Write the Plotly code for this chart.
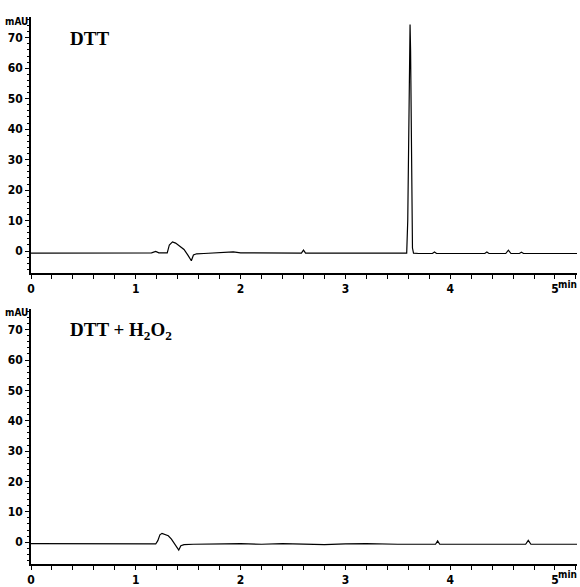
import plotly.graph_objects as go

# ---- data (time in min, absorbance in mAU) ----
t_dtt = [0.0, 0.5, 1.0, 1.15, 1.19, 1.22, 1.30, 1.32, 1.35, 1.38, 1.42, 1.46, 1.50, 1.53,
         1.55, 1.58, 1.65, 1.75, 1.85, 1.93, 2.0, 2.3, 2.58, 2.60, 2.62, 3.0, 3.4, 3.585,
         3.595, 3.605, 3.612, 3.617, 3.622, 3.628, 3.634, 3.64, 3.65, 3.7, 3.83, 3.85, 3.87,
         4.0, 4.33, 4.35, 4.37, 4.53, 4.555, 4.58, 4.66, 4.68, 4.70, 5.0, 5.21]
a_dtt = [-0.7, -0.7, -0.6, -0.6, -0.1, -0.6, -0.6, 2.0, 3.0, 2.6, 1.6, 0.5, -1.5, -3.2,
         -1.3, -0.9, -0.8, -0.7, -0.4, -0.3, -0.6, -0.7, -0.7, 0.3, -0.7, -0.7, -0.7, -0.7,
         10.0, 45.0, 68.0, 74.3, 66.0, 40.0, 14.0, 1.0, -0.7, -0.8, -0.8, -0.3, -0.8,
         -0.8, -0.8, -0.3, -0.8, -0.8, 0.3, -0.8, -0.8, -0.4, -0.8, -0.8, -0.8]

t_h2o2 = [0.0, 0.5, 1.0, 1.19, 1.21, 1.23, 1.25, 1.28, 1.31, 1.34, 1.37, 1.40, 1.41, 1.43,
          1.46, 1.55, 1.65, 1.75, 1.85, 2.0, 2.2, 2.4, 2.6, 2.8, 3.0, 3.2, 3.5, 3.86, 3.88,
          3.90, 4.3, 4.72, 4.745, 4.77, 5.0, 5.21]
a_h2o2 = [-0.5, -0.6, -0.6, -0.6, 0.5, 2.4, 2.9, 2.4, 2.1, 1.0, -0.5, -2.3, -2.6, -1.2,
          -0.8, -0.7, -0.6, -0.5, -0.6, -0.5, -0.7, -0.5, -0.6, -0.8, -0.6, -0.5, -0.7,
          -0.7, 0.4, -0.7, -0.7, -0.7, 0.6, -0.7, -0.7, -0.7]

panel_titles = ["<b>DTT</b>", "<b>DTT + H<sub>2</sub>O<sub>2</sub></b>"]
y_ticks = [0, 10, 20, 30, 40, 50, 60, 70]
x_ticks = [0, 1, 2, 3, 4, 5]

W, H = 580, 587
ML, MR, MT, MB = 31, 3, 17, 23
PW, PH = W - ML - MR, H - MT - MB

def px(x):
    return (x - ML) / PW

def py(y):
    return (H - MB - y) / PH

FAM = "DejaVu Sans Condensed, Liberation Sans Narrow, sans-serif"
tick_font = dict(family=FAM, size=12, color="black", weight="bold")

fig = go.Figure()
fig.add_trace(go.Scatter(x=t_dtt, y=a_dtt, mode="lines", line=dict(color="black", width=1.2),
                         xaxis="x", yaxis="y", showlegend=False))
fig.add_trace(go.Scatter(x=t_h2o2, y=a_h2o2, mode="lines", line=dict(color="black", width=1.2),
                         xaxis="x2", yaxis="y2", showlegend=False))

xcommon = dict(range=[0, 5.21], tickvals=x_ticks, ticktext=[str(v) for v in x_ticks],
               showline=True, linecolor="black", linewidth=1.5, ticks="outside", ticklen=4,
               tickwidth=1, tickcolor="black", showgrid=False, zeroline=False,
               tickfont=tick_font, automargin=False,
               minor=dict(dtick=0.2, tick0=0, ticks="outside", ticklen=4, tickcolor="black",
                          tickwidth=1, showgrid=False))
ycommon = dict(range=[-7.2, 76.8], tickvals=y_ticks, ticktext=[str(v) for v in y_ticks],
               showline=True, linecolor="black", linewidth=1.5, ticks="outside", ticklen=4,
               tickwidth=1, tickcolor="black", showgrid=False, zeroline=False,
               tickfont=tick_font, automargin=False,
               minor=dict(dtick=2, tick0=0, ticks="outside", ticklen=2, tickcolor="black",
                          tickwidth=1, showgrid=False))

top_lo = py(273)
bot_hi = py(309)

fig.update_layout(
    width=W, height=H,
    margin=dict(l=ML, r=MR, t=MT, b=MB, pad=0, autoexpand=False),
    paper_bgcolor="white", plot_bgcolor="white",
    xaxis=dict(domain=[0, 1], anchor="y", **xcommon),
    yaxis=dict(domain=[top_lo, 1], anchor="x", **ycommon),
    xaxis2=dict(domain=[0, 1], anchor="y2", **xcommon),
    yaxis2=dict(domain=[0, bot_hi], anchor="x2", **ycommon),
)

ann = []
for title, ytitle, ymau, ymin in [(panel_titles[0], 39, 21, 284),
                                  (panel_titles[1], 331, 313, 574)]:
    ann.append(dict(text=title, xref="paper", yref="paper", x=px(68), y=py(ytitle),
                    xanchor="left", yanchor="middle", showarrow=False,
                    font=dict(family="Liberation Serif, Times New Roman, serif", size=19,
                              color="black")))
    ann.append(dict(text="mAU", xref="paper", yref="paper", x=px(30), y=py(ymau),
                    xanchor="right", yanchor="middle", showarrow=False,
                    font=dict(family=FAM, size=10, color="black", weight="bold")))
    ann.append(dict(text="min", xref="paper", yref="paper", x=px(579), y=py(ymin),
                    xanchor="right", yanchor="middle", showarrow=False,
                    font=dict(family=FAM, size=10, color="black", weight="bold")))
fig.update_layout(annotations=ann)

fig.write_html("out.html", config={"displayModeBar": False},
               post_script="document.body.style.margin='0';document.body.style.overflow='hidden';")
